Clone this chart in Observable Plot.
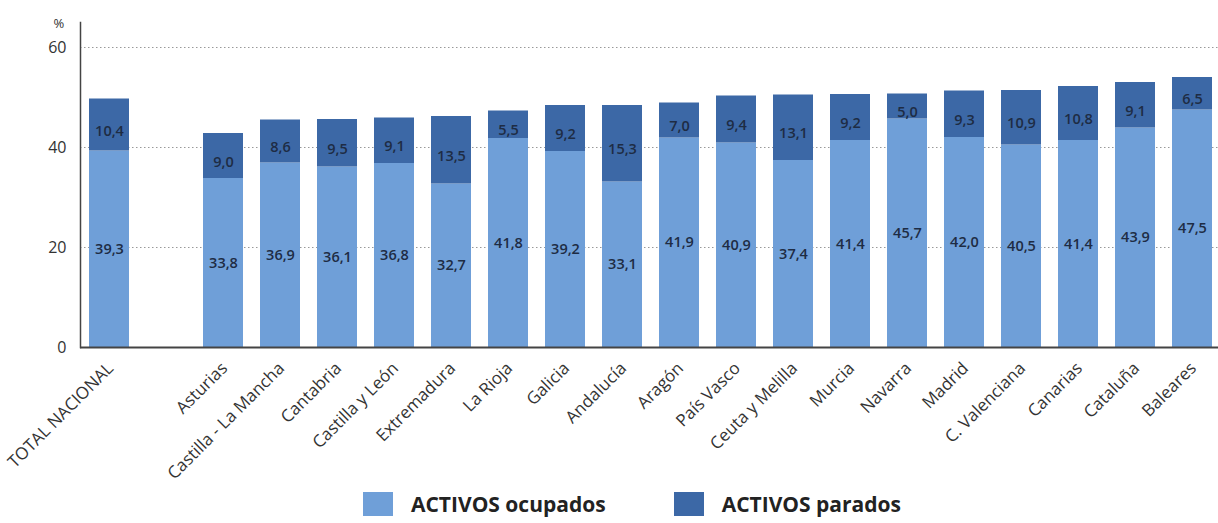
<!DOCTYPE html>
<html>
<head>
<meta charset="utf-8">
<script src="https://cdn.jsdelivr.net/npm/d3@7"></script>
<script src="https://cdn.jsdelivr.net/npm/@observablehq/plot@0.6"></script>
<style>
  body { margin: 0; background: #fff; font-family: "Open Sans", sans-serif; }
  #legend { display: flex; align-items: center; height: 38px; margin-left: 363px; font-weight: 700; font-size: 21px; color: #222; }
  .sw { width: 30px; height: 24px; margin-right: 18px; }
</style>
</head>
<body>
<div id="chart"></div>
<div id="legend"></div>
<script>
const regions = ["TOTAL NACIONAL", "Asturias", "Castilla - La Mancha", "Cantabria", "Castilla y León", "Extremadura", "La Rioja", "Galicia", "Andalucía", "Aragón", "País Vasco", "Ceuta y Melilla", "Murcia", "Navarra", "Madrid", "C. Valenciana", "Canarias", "Cataluña", "Baleares"];
const ocupados = [39.3, 33.8, 36.9, 36.1, 36.8, 32.7, 41.8, 39.2, 33.1, 41.9, 40.9, 37.4, 41.4, 45.7, 42.0, 40.5, 41.4, 43.9, 47.5];
const parados = [10.4, 9.0, 8.6, 9.5, 9.1, 13.5, 5.5, 9.2, 15.3, 7.0, 9.4, 13.1, 9.2, 5.0, 9.3, 10.9, 10.8, 9.1, 6.5];
const series = ["ACTIVOS ocupados", "ACTIVOS parados"];
const colors = ["#6f9fd8", "#3c68a6"];
const yTicks = [0, 20, 40, 60];

const spacer = " ";
const xDomain = [regions[0], spacer, ...regions.slice(1)];

const rows = [];
regions.forEach((r, i) => {
  rows.push({region: r, serie: series[0], value: ocupados[i], mid: ocupados[i] / 2});
  rows.push({region: r, serie: series[1], value: parados[i], mid: ocupados[i] + parados[i] / 2});
});
const fmt = v => d3.format(".1f")(v).replace(".", ",");

const plot = Plot.plot({
  width: 1218,
  height: 485,
  marginLeft: 80,
  marginRight: 0,
  marginTop: 22,
  marginBottom: 138,
  style: {fontFamily: "Open Sans, sans-serif", background: "#fff"},
  x: {domain: xDomain, range: [82, 1218], padding: 0.3, paddingOuter: 0, label: null},
  y: {domain: [0, 65], label: null},
  color: {domain: series, range: colors},
  marks: [
    Plot.gridY(yTicks.slice(1), {stroke: "#999", strokeOpacity: 1, strokeDasharray: "1.5,2.5", strokeWidth: 1}),
    Plot.barY(rows, {x: "region", y: "value", fill: "serie", inset: 0}),
    Plot.text(rows.filter(d => d.serie === series[0]), {x: "region", y: "mid", text: d => fmt(d.value), fill: "#1e2c44", fontSize: 14.5, fontWeight: 600}),
    Plot.text(rows.filter(d => d.serie === series[1]), {x: "region", y: "mid", text: d => fmt(d.value), fill: "#1e2c44", fontSize: 14.5, fontWeight: 600, dy: 6}),
    Plot.axisY({ticks: yTicks, tickSize: 0, tickPadding: 14, fontSize: 16, color: "#333", label: null}),
    Plot.axisX({ticks: regions, tickSize: 0, tickRotate: -45, tickPadding: 18, dx: 1, fontSize: 17, color: "#333", label: null}),
    Plot.text(["%"], {frameAnchor: "top-left", dx: -27, dy: -4, fontSize: 13, fill: "#333"}),
    Plot.ruleY([0], {stroke: "#444", strokeWidth: 2}),
    Plot.frame({anchor: "left", stroke: "#444", strokeWidth: 1.5})
  ]
});
document.getElementById("chart").appendChild(plot);

const legend = document.getElementById("legend");
series.forEach((s, i) => {
  const sw = document.createElement("span");
  sw.className = "sw";
  sw.style.background = colors[i];
  const t = document.createElement("span");
  t.textContent = s;
  if (i === 0) t.style.marginRight = "68px";
  legend.appendChild(sw);
  legend.appendChild(t);
});
</script>
</body>
</html>
